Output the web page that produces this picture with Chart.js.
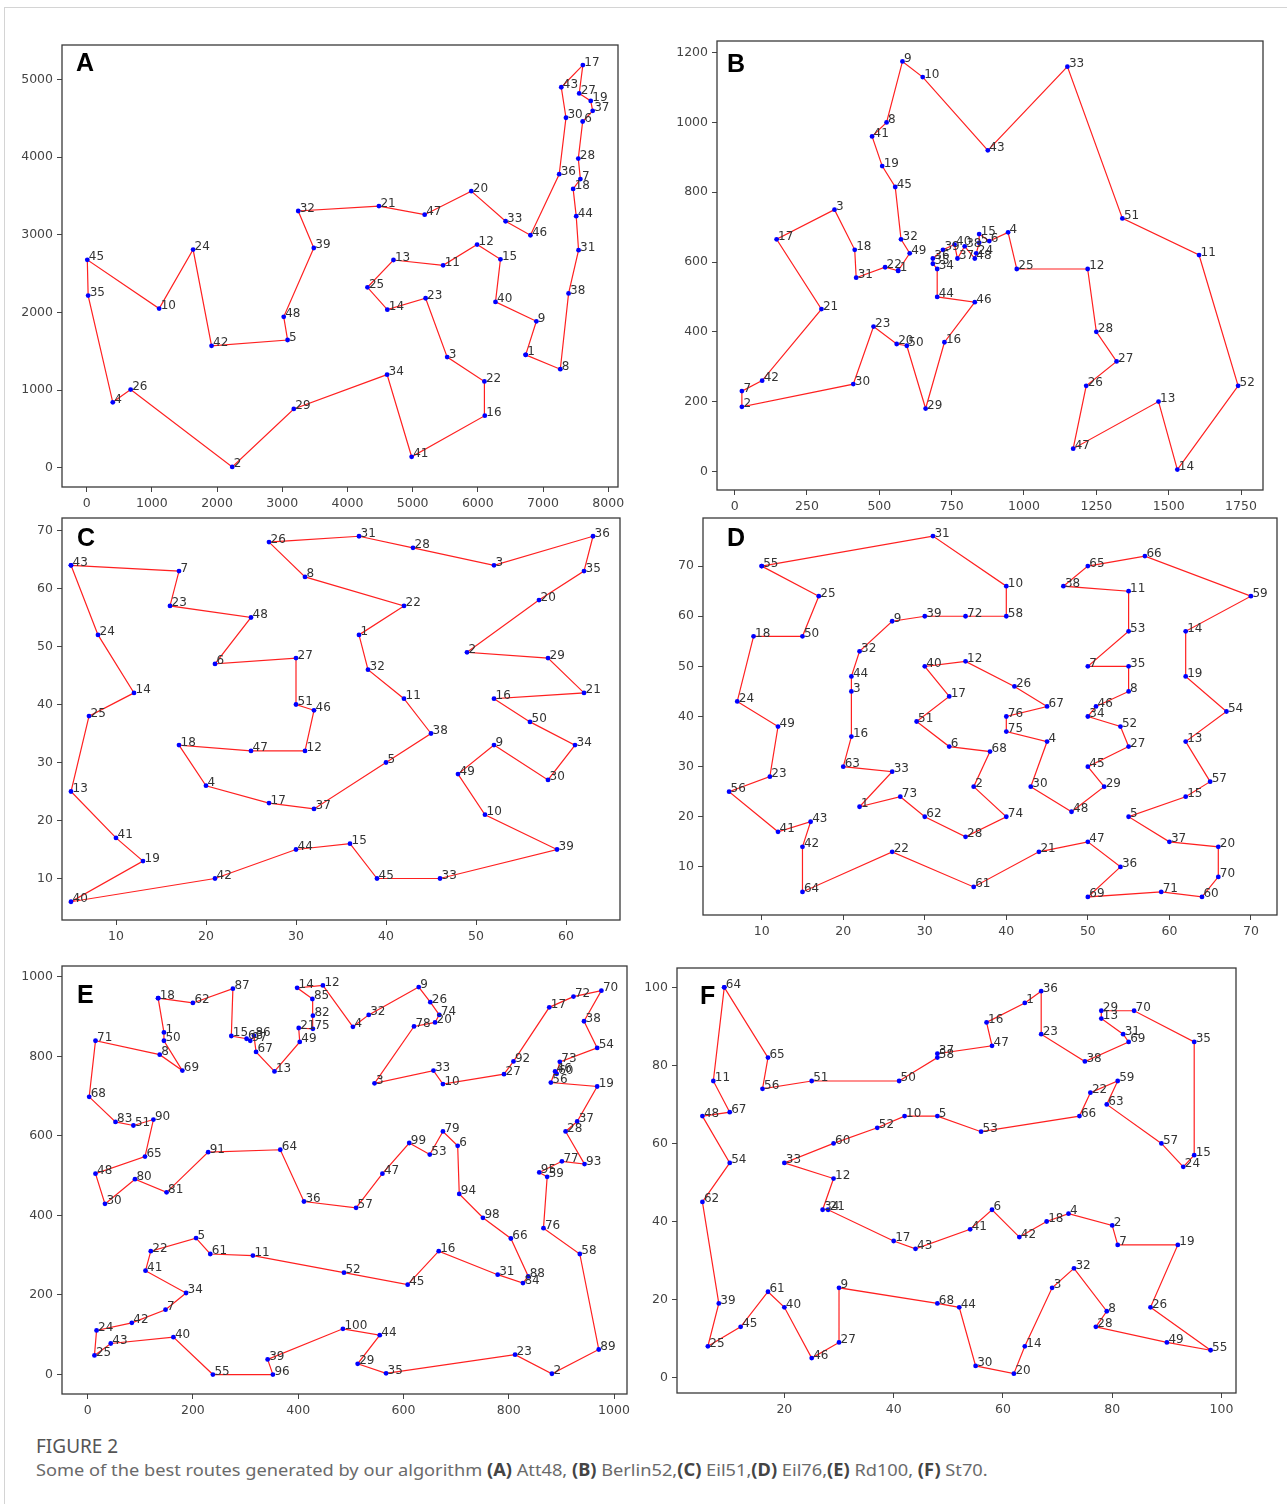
<!DOCTYPE html>
<html>
<head>
<meta charset="utf-8">
<script src="https://cdn.jsdelivr.net/npm/chart.js@4.4.0/dist/chart.umd.min.js"></script>
<style>
  body { margin: 0; background: #fff; width: 1287px; height: 1504px; position: relative; overflow: hidden; }
  #frame { position: absolute; left: 4px; top: 7px; width: 1290px; height: 1510px; border-top: 1px solid #d4d4d4; border-left: 1px solid #d4d4d4; }
  .cap { position: absolute; left: 36px; font-family: "Noto Sans", "Open Sans", sans-serif; white-space: nowrap; transform-origin: 0 0; line-height: 1; }
  #figno { top: 1437px; font-size: 19px; color: #555; }
  #figtxt { top: 1461px; font-size: 17px; color: #6a6a6a; }
  #figtxt b { color: #444; font-weight: 700; }
</style>
</head>
<body>
<div id="frame"></div>
<div class="cap" id="figno">FIGURE 2</div>
<div class="cap" id="figtxt">Some of the best routes generated by our algorithm <b>(A)</b> Att48, <b>(B)</b> Berlin52,<b>(C)</b> Eil51,<b>(D)</b> Eil76,<b>(E)</b> Rd100, <b>(F)</b> St70.</div>
<script>
// (A) Att48
const attX = [6734,2233,5530,401,3082,7608,7573,7265,6898,1112,5468,5989,4706,4612,6347,6107,7611,7462,7732,5900,4483,6101,5199,1633,4307,675,7555,7541,3177,7352,7545,3245,6426,4608,23,7248,7762,7392,3484,6271,4985,1916,7280,7509,10,6807,5185,3023];
const attY = [1453,10,1424,841,1644,4458,3716,1268,1885,2049,2606,2873,2674,2035,2683,669,5184,3590,4723,3561,3369,1110,2182,2809,2322,1006,4819,3981,756,4506,2801,3305,3173,1198,2216,3779,4595,2244,2829,2135,140,1569,4899,3239,2676,2993,3258,1942];
const attTour = [1,8,38,31,44,18,7,28,6,37,19,27,17,43,30,36,46,33,20,47,21,32,39,48,5,42,24,10,45,35,4,26,2,29,34,41,16,22,3,23,14,25,13,11,12,15,40,9];
const attXTicks = [0,1000,2000,3000,4000,5000,6000,7000,8000];
const attYTicks = [0,1000,2000,3000,4000,5000];

// (B) Berlin52
const berX = [565,25,345,945,845,880,25,525,580,650,1605,1220,1465,1530,845,725,145,415,510,560,300,520,480,835,975,1215,1320,1250,660,410,420,575,1150,700,685,685,770,795,720,760,475,95,875,700,555,830,1170,830,605,595,1340,1740];
const berY = [575,185,750,685,655,660,230,1000,1175,1130,620,580,200,5,680,370,665,635,875,365,465,585,415,625,580,245,315,400,180,250,555,665,1160,580,595,610,610,645,635,650,960,260,920,500,815,485,65,610,625,360,725,245];
const berTour = [1,49,32,45,19,41,8,9,10,43,33,51,11,52,14,13,47,26,27,28,12,25,4,6,15,5,24,48,38,37,40,39,36,35,34,44,46,16,29,50,20,23,30,2,7,42,21,17,3,18,31,22];
const berXTicks = [0,250,500,750,1000,1250,1500,1750];
const berYTicks = [0,200,400,600,800,1000,1200];

// (C) Eil51
const e51X = [37,49,52,20,40,21,17,31,52,51,42,31,5,12,36,52,27,17,13,57,62,42,16,8,7,27,30,43,58,58,37,38,46,61,62,63,32,45,59,5,10,21,5,30,39,32,25,25,48,56,30];
const e51Y = [52,49,64,26,30,47,63,62,33,21,41,32,25,42,16,41,23,33,13,58,42,57,57,52,38,68,48,67,48,27,69,46,10,33,63,69,22,35,15,6,17,10,64,15,10,39,32,55,28,37,40];
const e51Tour = [43,7,23,48,6,27,51,46,12,47,18,4,17,37,5,38,11,32,1,22,8,26,31,28,3,36,35,20,2,29,21,16,50,34,30,9,49,10,39,33,45,15,44,42,40,19,41,13,25,14,24];
const e51XTicks = [10,20,30,40,50,60];
const e51YTicks = [10,20,30,40,50,60,70];

// (D) Eil76
const e76X = [22,36,21,45,55,33,50,55,26,40,55,35,62,62,62,21,33,9,62,66,44,26,11,7,17,41,55,35,52,43,31,22,26,50,55,54,60,47,30,30,12,15,16,21,50,51,50,48,12,15,29,54,55,67,10,6,65,40,70,64,36,30,20,15,50,57,45,38,50,66,59,35,27,40,40,40];
const e76Y = [22,26,45,35,20,34,50,45,59,66,65,51,35,57,24,36,44,56,48,14,13,13,28,43,64,46,34,16,26,26,76,53,29,40,50,10,15,66,60,50,17,14,19,48,30,42,15,21,38,56,39,38,57,41,70,25,27,60,64,4,6,20,30,5,70,72,42,33,4,8,5,60,24,20,37,40];
const e76Tour = [55,31,10,58,72,39,9,32,44,3,16,63,33,1,73,62,28,74,2,68,6,51,17,40,12,26,67,76,75,4,30,48,29,45,27,52,34,46,8,35,7,53,11,38,65,66,59,14,19,54,13,57,15,5,37,20,70,60,71,69,36,47,21,61,22,64,42,43,41,56,23,49,24,18,50,25];
const e76XTicks = [10,20,30,40,50,60,70];
const e76YTicks = [10,20,30,40,50,60,70];

// (E) Rd100
const rdX = [145,882,545,504,206,703,148,137,629,675,314,447,355,398,273,667,877,134,968,660,401,120,812,17,13,651,791,908,513,33,779,534,657,187,567,411,930,943,342,163,110,84,44,555,608,888,560,15,403,145,87,487,650,968,238,880,510,935,873,891,233,200,302,366,109,804,320,3,180,976,15,923,897,668,428,866,901,620,675,90,150,428,53,827,427,316,276,837,971,125,229,809,944,706,858,352,309,751,611,485];
const rdY = [860,2,732,874,343,575,163,804,974,730,299,978,762,972,851,310,923,946,724,885,871,310,50,111,48,936,755,611,27,429,251,904,764,205,3,435,636,888,38,94,261,130,78,99,226,762,505,505,836,839,626,256,553,821,0,734,419,303,497,756,303,934,844,565,548,342,811,698,764,965,839,950,786,904,869,368,536,875,611,491,458,902,635,230,944,852,970,247,63,641,559,787,529,454,508,0,839,394,582,115];
const rdTour = [18,62,87,15,63,97,86,67,13,49,21,75,82,85,14,12,4,32,9,26,74,20,78,3,33,10,27,92,17,72,70,38,54,73,60,46,56,19,37,28,93,77,95,59,76,58,89,2,23,35,29,44,100,39,96,55,40,43,25,24,42,7,34,41,22,5,61,11,52,45,16,31,84,88,66,98,94,6,79,53,99,47,57,36,64,91,81,80,30,48,65,90,51,83,68,71,8,69,50,1];
const rdXTicks = [0,200,400,600,800,1000];
const rdYTicks = [0,200,400,600,800,1000];

// (F) St70
const stX = [64,80,69,72,48,58,81,79,30,42,7,29,78,64,95,57,40,68,92,62,28,76,67,93,6,87,30,77,78,55,82,73,20,27,95,67,48,75,8,20,54,63,44,52,12,25,58,5,90,41,25,37,56,10,98,16,89,48,81,29,17,5,79,9,17,74,10,48,83,84];
const stY = [96,39,23,42,67,43,34,17,23,67,76,51,92,8,57,91,35,40,34,1,43,73,88,54,8,18,9,13,94,3,88,28,55,43,86,99,83,81,19,18,38,36,33,18,13,5,85,67,9,76,76,64,63,55,7,74,60,82,76,60,22,45,70,100,82,67,68,19,86,94];
const stTour = [64,65,56,51,50,58,37,47,16,1,36,23,38,69,31,13,29,70,35,15,24,57,63,59,22,66,53,5,10,52,60,33,12,34,21,17,43,41,6,42,18,4,2,7,19,26,55,49,28,8,32,3,14,20,30,44,68,9,27,46,40,61,45,25,39,62,54,48,67,11];
const stXTicks = [20,40,60,80,100];
const stYTicks = [0,20,40,60,80,100];

const panels = [
  { letter: 'A', xs: attX, ys: attY, tour: attTour, xt: attXTicks, yt: attYTicks, frame: [62, 45, 618, 487], xr: [-378, 8150], yr: [-249, 5443], lp: [14, 26] },
  { letter: 'B', xs: berX, ys: berY, tour: berTour, xt: berXTicks, yt: berYTicks, frame: [717, 41, 1263, 490], xr: [-61, 1826], yr: [-53.5, 1233.5], lp: [10, 31] },
  { letter: 'C', xs: e51X, ys: e51Y, tour: e51Tour, xt: e51XTicks, yt: e51YTicks, frame: [62, 518, 620, 920], xr: [4, 66], yr: [2.85, 72.15], lp: [15, 28] },
  { letter: 'D', xs: e76X, ys: e76Y, tour: e76Tour, xt: e76XTicks, yt: e76YTicks, frame: [703, 518, 1277, 915], xr: [2.8, 73.2], yr: [0.4, 79.6], lp: [24, 28] },
  { letter: 'E', xs: rdX, ys: rdY, tour: rdTour, xt: rdXTicks, yt: rdYTicks, frame: [62, 966, 627, 1394], xr: [-48.65, 1024.65], yr: [-48.9, 1026.9], lp: [15, 37] },
  { letter: 'F', xs: stX, ys: stY, tour: stTour, xt: stXTicks, yt: stYTicks, frame: [677, 968, 1236, 1393], xr: [0.35, 102.65], yr: [-3.95, 104.95], lp: [23, 36] }
];

const padL = 72, padT = 12, padR = 16, padB = 36;

function axis(range, ticks, isY) {
  return {
    type: 'linear',
    min: range[0],
    max: range[1],
    afterBuildTicks: s => { s.ticks = ticks.map(v => ({ value: v })); },
    afterFit: s => { if (isY) s.width = padL; else s.height = padB; },
    ticks: {
      callback: v => String(v),
      font: { family: 'DejaVu Sans', size: 12.5 },
      color: '#444',
      padding: 4,
      maxRotation: 0,
      autoSkip: false
    },
    grid: { drawOnChartArea: false, drawTicks: true, tickLength: 5, color: '#444', lineWidth: 1 },
    border: { display: false }
  };
}

function makePanel(p) {
  const [L, T, R, B] = p.frame;
  const cv = document.createElement('canvas');
  cv.width = (R - L) + padL + padR;
  cv.height = (B - T) + padT + padB;
  cv.style.position = 'absolute';
  cv.style.left = (L - padL) + 'px';
  cv.style.top = (T - padT) + 'px';
  document.body.appendChild(cv);

  const pts = p.tour.concat([p.tour[0]]).map(c => ({ x: p.xs[c - 1], y: p.ys[c - 1], c: c }));

  const deco = {
    id: 'deco' + p.letter,
    afterDatasetsDraw(chart) {
      const ctx = chart.ctx;
      const meta = chart.getDatasetMeta(0);
      ctx.save();
      ctx.font = '12px "DejaVu Sans"';
      ctx.fillStyle = '#333';
      ctx.textAlign = 'left';
      ctx.textBaseline = 'alphabetic';
      meta.data.forEach((el, i) => {
        if (i === pts.length - 1) return;
        ctx.fillText(String(pts[i].c), el.x + 1.5, el.y + 0.5);
      });
      ctx.restore();
    },
    afterDraw(chart) {
      const a = chart.chartArea, ctx = chart.ctx;
      ctx.save();
      ctx.strokeStyle = '#3a3a3a';
      ctx.lineWidth = 1.3;
      ctx.strokeRect(a.left, a.top, a.right - a.left, a.bottom - a.top);
      ctx.font = 'bold 25px "Liberation Sans", Arial, sans-serif';
      ctx.fillStyle = '#000';
      ctx.textBaseline = 'alphabetic';
      ctx.fillText(p.letter, a.left + p.lp[0], a.top + p.lp[1]);
      ctx.restore();
    }
  };

  new Chart(cv, {
    type: 'scatter',
    data: {
      datasets: [{
        data: pts,
        showLine: true,
        borderColor: '#ff2020',
        borderWidth: 1.2,
        pointRadius: 2.4,
        pointBackgroundColor: '#0000ff',
        pointBorderWidth: 0,
        pointHoverRadius: 2.4
      }]
    },
    options: {
      responsive: false,
      animation: false,
      devicePixelRatio: 1,
      layout: { padding: { left: 0, top: padT, right: padR, bottom: 0 } },
      scales: {
        x: axis(p.xr, p.xt, false),
        y: axis(p.yr, p.yt, true)
      },
      plugins: { legend: { display: false }, tooltip: { enabled: false } }
    },
    plugins: [deco]
  });
}

panels.forEach(makePanel);

// fit caption widths to the figure
function fitWidth(id, w) {
  const el = document.getElementById(id);
  el.style.transform = 'scaleX(' + (w / el.scrollWidth) + ')';
}
fitWidth('figno', 82);
fitWidth('figtxt', 952);
</script>
</body>
</html>
